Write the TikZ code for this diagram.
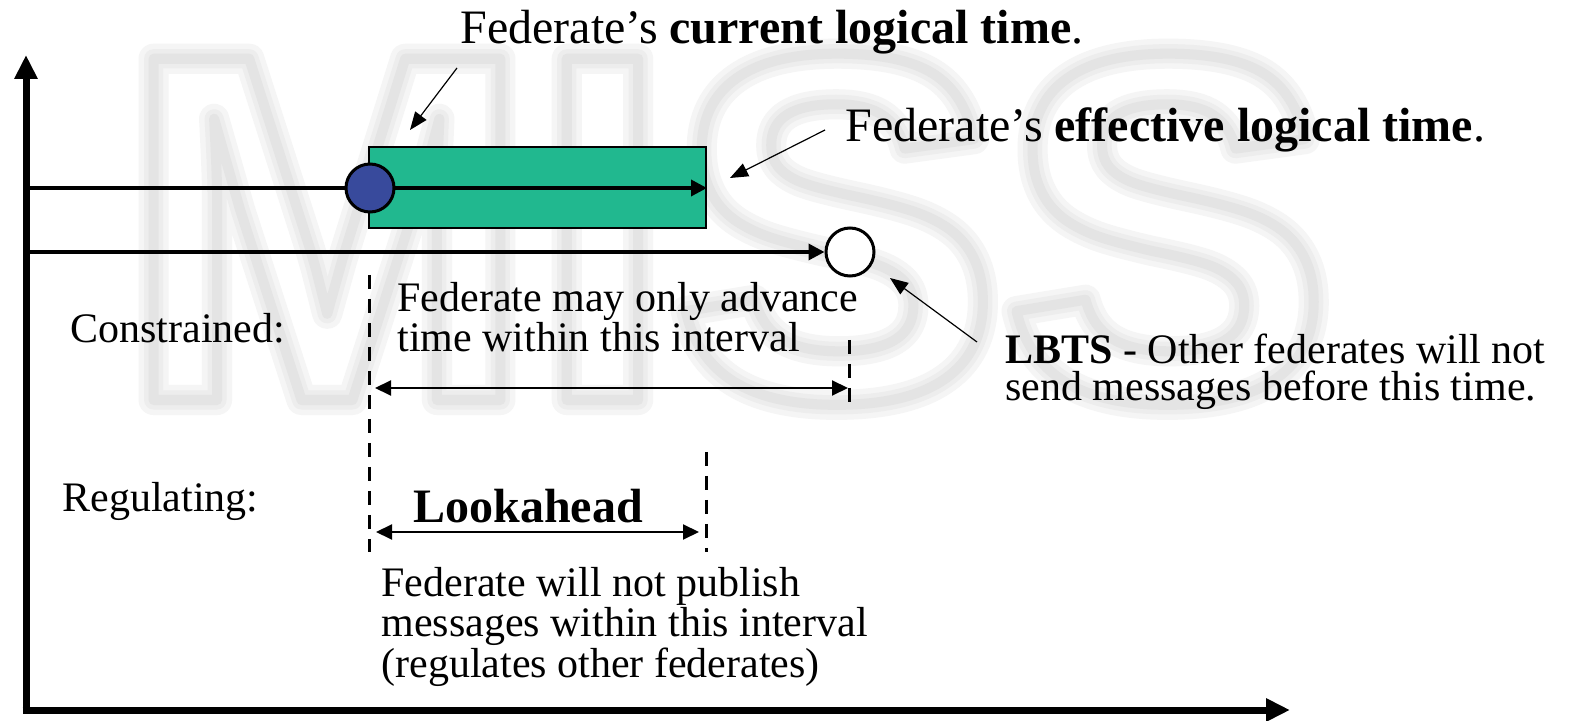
\documentclass[tikz,border=0pt]{standalone}
\usepackage{fontspec}
\setmainfont{Liberation Serif}
\newfontfamily\wmfont{Liberation Sans}
\usetikzlibrary{arrows.meta}
\definecolor{tealfill}{HTML}{21B88F}
\definecolor{dotblue}{HTML}{384A9C}
\definecolor{wmA}{HTML}{F5F5F5}
\definecolor{wmB}{HTML}{EDEDED}
\definecolor{wmC}{HTML}{E4E4E4}
\newcommand{\wmtext}[2]{{\wmfont\bfseries\fontsize{248}{250}\selectfont\color{#1}\special{pdf:literal direct 1 Tr #2 w 1 j}MISS\special{pdf:literal direct 0 Tr}}}
\begin{document}
\begin{tikzpicture}[x=0.5pt,y=-0.5pt,
  axis/.style={line width=3.5pt,-{Triangle[length=12pt,width=11pt]}},
  tline/.style={line width=1.75pt,-{Triangle[length=8pt,width=8pt]}},
  dimarrow/.style={line width=1pt,{Triangle[length=8pt,width=7.5pt]}-{Triangle[length=8pt,width=7.5pt]}},
  pointer/.style={line width=0.6pt,-{Triangle[length=9pt,width=7pt]}},
  guide/.style={line width=1.5pt,dash pattern=on 7pt off 5pt},
  dot/.style={circle,draw,line width=1.5pt,minimum size=24pt,inner sep=0pt},
  body/.style={font=\fontsize{21}{18.5}\selectfont,inner sep=0pt,align=left,anchor=base west},
  head/.style={font=\fontsize{24}{26}\selectfont,inner sep=0pt,anchor=base west},
  wmark/.style={anchor=base west,inner sep=0pt}]
\useasboundingbox[fill=white] (0,0) rectangle (1570,721);
% watermark (soft outline in three passes)
\node[wmark] (wm1) at (120,400) {\wmtext{wmA}{15}};
\node[wmark] (wm2) at (120,400) {\wmtext{wmB}{9.5}};
\node[wmark] (wm3) at (120,400) {\wmtext{wmC}{5}};
% axes
\coordinate (vbot) at (26,713.5);
\coordinate (ytip) at (26,55);
\coordinate (hleft) at (22.5,710);
\coordinate (xtip) at (1290,710);
\draw[axis] (vbot) -- (ytip);
\draw[axis] (hleft) -- (xtip);
% timelines
\node[draw,fill=tealfill,line width=1pt,inner sep=0pt,minimum width=168.5pt,minimum height=40.5pt] (rect) at (537.5,187.5) {};
\coordinate (l1start) at (26,188);
\coordinate (l2start) at (26,252);
\draw[tline] (l1start) -- (rect.east |- l1start);
\node[dot,fill=dotblue] (cur) at (370,188) {};
\node[dot,fill=white] (lbts) at (850,252) {};
\draw[tline] (l2start) -- (lbts.west);
% dashed guides
\coordinate (g1a) at (369,275); \coordinate (g1b) at (369,552);
\coordinate (g2a) at (849,340); \coordinate (g2b) at (849,412);
\coordinate (g3a) at (706,452); \coordinate (g3b) at (706,552);
\draw[guide] (g1a) -- (g1b);
\draw[guide] (g2a) -- (g2b);
\draw[guide] (g3a) -- (g3b);
% interval arrows
\coordinate (c1) at (375,388); \coordinate (c2) at (848,388);
\coordinate (r1) at (376,532); \coordinate (r2) at (699,532);
\draw[dimarrow] (c1) -- (c2);
\draw[dimarrow] (r1) -- (r2);
% texts
\node[head] (title) at (460,44) {Federate’s \textbf{current logical time}.};
\node[head] (eff) at (845,142) {Federate’s \textbf{effective logical time}.};
\node[body] (constr) at (70,343) {Constrained:};
\node[body] (regul) at (62,512) {Regulating:};
\node[body] (adv) at (397,352) {Federate may only advance\\time within this interval};
\node[body] (lbtstxt) at (1005,401) {\textbf{LBTS} - Other federates will not\\send messages before this time.};
\node[head] (look) at (413,523) {\textbf{Lookahead}};
\node[body] (publ) at (381,677) {Federate will not publish\\messages within this interval\\(regulates other federates)};
% pointers
\coordinate (p1s) at (457,68); \coordinate (p1e) at (410,130);
\coordinate (p2s) at (825,130); \coordinate (p2e) at (730,178);
\coordinate (p3s) at (977,342); \coordinate (p3e) at (890,278);
\draw[pointer] (p1s) -- (p1e);
\draw[pointer] (p2s) -- (p2e);
\draw[pointer] (p3s) -- (p3e);
\end{tikzpicture}
\end{document}
